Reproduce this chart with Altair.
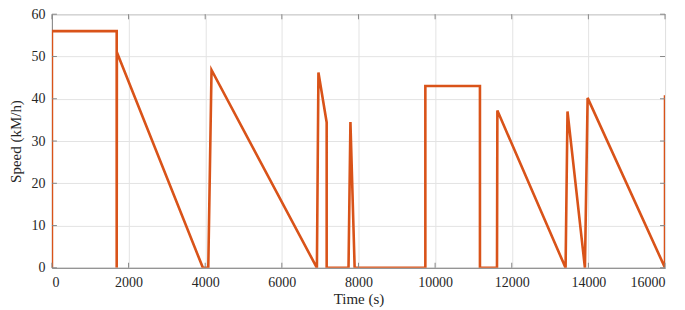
import altair as alt
import pandas as pd

time_s = [0, 0, 1690, 1690, 1695, 3940, 4080, 4165, 6915, 6955, 7170, 7170,
          7740, 7790, 7900, 9745, 9745, 11170, 11170, 11615, 11625, 13405,
          13455, 13910, 13980, 16000, 16000]
speed = [0, 56, 56, 0, 51, 0, 0, 46.8, 0, 46.2, 34.4, 0,
         0, 34.5, 0, 0, 43, 43, 0, 0, 37.2, 0,
         37.0, 0, 40.2, 0, 40.8]

x_ticks = [0, 2000, 4000, 6000, 8000, 10000, 12000, 14000, 16000]
y_ticks = [0, 10, 20, 30, 40, 50, 60]

df = pd.DataFrame({"t": time_s, "v": speed, "i": list(range(len(time_s)))})

xs = alt.Scale(domain=[0, 16000], nice=False, zero=False)
ys = alt.Scale(domain=[0, 60], nice=False, zero=False)

FONT = "Liberation Serif"
TXT = "#262626"

xaxis = alt.Axis(values=x_ticks, format="d", tickSize=0, labelPadding=8,
                 titlePadding=2, labelFont=FONT, titleFont=FONT,
                 labelFontSize=14, titleFontSize=15, grid=True)
yaxis = alt.Axis(values=y_ticks, format="d", tickSize=0, labelPadding=7,
                 titlePadding=7, labelFont=FONT, titleFont=FONT,
                 labelFontSize=14, titleFontSize=15, grid=True)

line = alt.Chart(df).mark_line(color="#D95319", strokeWidth=2.6, clip=True).encode(
    x=alt.X("t:Q", scale=xs, title="Time (s)", axis=xaxis),
    y=alt.Y("v:Q", scale=ys, title="Speed (kM/h)", axis=yaxis),
    order="i:Q",
)

tick_col = "#888888"
xt = pd.DataFrame({"t": x_ticks})
yt = pd.DataFrame({"v": y_ticks})
bx = alt.Chart(xt).mark_rule(color=tick_col, strokeWidth=1).encode(
    x=alt.X("t:Q", scale=xs, title="Time (s)", axis=xaxis), y=alt.datum(0), y2=alt.datum(1.2))
tx = alt.Chart(xt).mark_rule(color=tick_col, strokeWidth=1).encode(
    x=alt.X("t:Q", scale=xs, title="Time (s)", axis=xaxis), y=alt.datum(60), y2=alt.datum(58.8))
ly = alt.Chart(yt).mark_rule(color=tick_col, strokeWidth=1).encode(
    y=alt.Y("v:Q", scale=ys, title="Speed (kM/h)", axis=yaxis), x=alt.datum(0), x2=alt.datum(130))
ry = alt.Chart(yt).mark_rule(color=tick_col, strokeWidth=1).encode(
    y=alt.Y("v:Q", scale=ys, title="Speed (kM/h)", axis=yaxis), x=alt.datum(16000), x2=alt.datum(15870))

chart = alt.layer(line, bx, tx, ly, ry).properties(
    width=614, height=254,
    autosize=alt.AutoSizeParams(type="none"),
    padding={"left": 44, "top": 6, "right": 12, "bottom": 40},
).configure_view(stroke="#888888", strokeWidth=1).configure_axis(
    labelColor=TXT, titleColor=TXT, titleFontWeight="normal",
    gridColor="#e3e3e3", gridWidth=1,
    domainColor="#888888", domainWidth=1,
)

chart.save("out.html", embed_options={"renderer": "svg", "actions": False})
